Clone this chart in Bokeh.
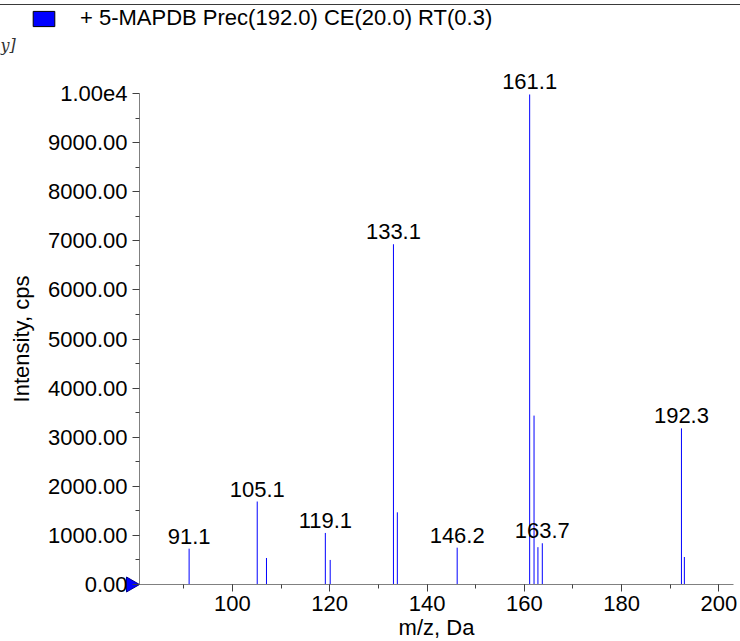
import math
import numpy as np
from bokeh.plotting import figure
from bokeh.models import (ColumnDataSource, LabelSet, Label, Legend, LegendItem, FixedTicker)
from bokeh.core.properties import value
from bokeh.embed import file_html
from bokeh.resources import INLINE

# ---- data ----
mz = [91.1, 105.1, 107.0, 119.1, 120.1, 133.1, 133.9, 146.2, 161.1, 162.0, 162.8, 163.7, 192.3, 192.9]
intensity = [730, 1690, 540, 1050, 500, 6930, 1470, 750, 9980, 3440, 760, 840, 3180, 560]
peak_labels = ["91.1", "105.1", "", "119.1", "", "133.1", "", "146.2", "161.1", "", "", "163.7", "192.3", ""]
y_ticks = [0, 1000, 2000, 3000, 4000, 5000, 6000, 7000, 8000, 9000, 10000]
y_tick_labels = ["0.00", "1000.00", "2000.00", "3000.00", "4000.00", "5000.00",
                 "6000.00", "7000.00", "8000.00", "9000.00", "1.00e4"]
y_minor = [500, 1500, 2500, 3500, 4500, 5500, 6500, 7500, 8500, 9500]
x_ticks = [100, 120, 140, 160, 180, 200]
x_minor = [90, 100, 110, 120, 130, 140, 150, 160, 170, 180, 190, 200]
mz_axis = (80.9, 203.0)
intensity_axis = (0, 10000)
legend_text = "+ 5-MAPDB Prec(192.0) CE(20.0) RT(0.3)"
y_title = "Intensity, cps"
x_title = "m/z, Da"
corner_text = "y]"

FONT = "Liberation Sans"
BLUE = "#0000ff"

# ---- layout (pixels) ----
W, H = 740, 641
AXIS_X = 139            # where the intensity axis sits
AXIS_R = 733            # where the m/z axis ends
BASE_Y = 584            # where intensity 0 sits
X_PX = (AXIS_R - AXIS_X) / (mz_axis[1] - mz_axis[0])
Y_PX = 491 / (intensity_axis[1] - intensity_axis[0])
x_range = (mz_axis[0] - AXIS_X / X_PX, mz_axis[1] + (W - AXIS_R) / X_PX)
y_range = (-(H - BASE_Y) / Y_PX, BASE_Y / Y_PX)

p = figure(width=W, height=H, output_backend="svg", toolbar_location=None,
           x_range=x_range, y_range=y_range,
           min_border_left=0, min_border_right=0, min_border_top=0, min_border_bottom=0)
p.title.visible = False
p.background_fill_color = None
p.border_fill_color = None
p.styles = {"background": "linear-gradient(#3a3a3a,#3a3a3a) 0 4px / 100% 1px no-repeat, #ffffff"}
p.outline_line_color = None
p.grid.visible = False

src = ColumnDataSource(dict(mz=mz, intensity=intensity, base=[0] * len(mz), label=peak_labels))
p.segment(x0="mz", y0="base", x1="mz", y1="intensity", source=src, line_color=BLUE, line_width=1)

p.add_layout(LabelSet(x="mz", y="intensity", text="label", source=src, text_align="center",
                      text_baseline="alphabetic", y_offset=5, text_font=value(FONT),
                      text_font_size="22px", text_color="black"))

# zero marker: right-pointing triangle whose tip touches the intensity axis
TRI = 15
p.scatter(x=[mz_axis[0] - (TRI / 2 * math.sqrt(3) * 2 / 3) / X_PX], y=[intensity_axis[0]],
          marker="triangle", angle=-math.pi / 2, size=TRI,
          fill_color=BLUE, line_color="#00008b", line_width=1)

# axes, pinned to the data origin
for ax in (p.xaxis[0], p.yaxis[0]):
    ax.axis_line_color = "#808080"
    ax.major_tick_line_color = "#404040"
    ax.minor_tick_line_color = "#404040"
    ax.major_label_text_font = FONT
    ax.major_label_text_font_size = "22px"
    ax.major_label_text_color = "black"
    ax.major_tick_in = 0
    ax.minor_tick_in = 0

p.yaxis.fixed_location = mz_axis[0]
p.yaxis.bounds = intensity_axis
p.yaxis.ticker = FixedTicker(ticks=y_ticks, minor_ticks=y_minor)
p.yaxis.major_label_overrides = {t: s for t, s in zip(y_ticks, y_tick_labels)}
p.yaxis.major_tick_out = 7
p.yaxis.minor_tick_out = 4
p.yaxis.major_label_standoff = 5

p.xaxis.fixed_location = intensity_axis[0]
p.xaxis.bounds = mz_axis
p.xaxis.ticker = FixedTicker(ticks=x_ticks, minor_ticks=x_minor)
p.xaxis.major_tick_out = 7
p.xaxis.minor_tick_out = 4
p.xaxis.major_label_standoff = 4

# axis titles
p.add_layout(Label(x=mz_axis[0], y=sum(intensity_axis) / 2, x_offset=-118, text=y_title,
                   angle=math.pi / 2, text_align="center", text_baseline="alphabetic",
                   text_font=FONT, text_font_size="22px", text_color="black"))
p.add_layout(Label(x=sum(mz_axis) / 2, y=intensity_axis[0], y_offset=-43, text=x_title,
                   text_align="center", text_baseline="alphabetic",
                   text_font=FONT, text_font_size="22px", text_color="black"))

# stray glyph at the top-left edge
p.add_layout(Label(x=x_range[0], y=y_range[1], y_offset=-45, text=corner_text, text_baseline="alphabetic",
                   text_font="DejaVu Serif", text_font_size="16px", text_font_style="italic",
                   text_color="#333333"))

# legend (swatch + label) at the top
swatch_src = ColumnDataSource(dict(l=np.array([np.nan]), r=np.array([np.nan]),
                                   t=np.array([np.nan]), b=np.array([np.nan])))
swatch = p.quad(left="l", right="r", top="t", bottom="b", source=swatch_src,
                fill_color=BLUE, line_color="black", line_width=1)
legend = Legend(items=[LegendItem(label=legend_text, renderers=[swatch])],
                location=(30, 610), glyph_width=27, glyph_height=19, label_standoff=23,
                padding=0, margin=0, spacing=0, border_line_color=None,
                background_fill_alpha=0, label_text_font=FONT, label_text_font_size="22px",
                label_text_color="black")
p.add_layout(legend)

open("out.html", "w").write(file_html(p, INLINE))
